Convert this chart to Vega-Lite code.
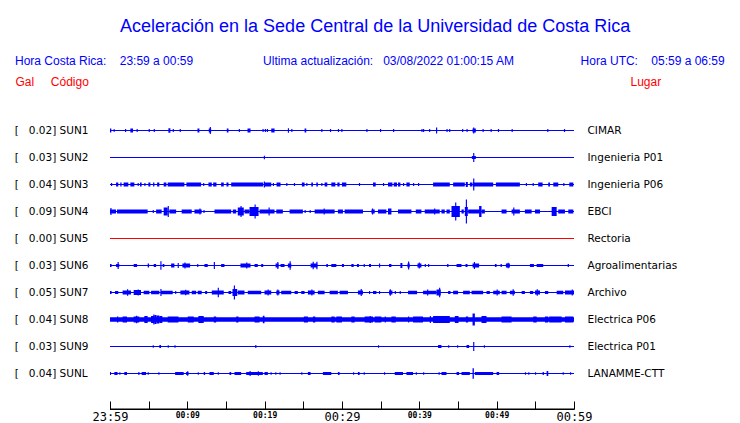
{
  "$schema": "https://vega.github.io/schema/vega-lite/v6.json",
  "autosize": {"type": "none"},
  "padding": {"left": 110, "top": 117, "right": 166, "bottom": 36},
  "width": 464,
  "height": 270,
  "background": "white",
  "config": {"view": {"stroke": null}},
  "title": {
    "text": "\u200b\u00a0\u00a0\u00a0\u00a0\u00a0\u00a0\u00a0\u00a0\u00a0\u00a0\u00a0\u00a0\u00a0\u00a0\u00a0\u00a0\u00a0\u00a0\u00a0\u00a0\u00a0Aceleración en la Sede Central de la Universidad de Costa Rica",
    "subtitle": "Hora Costa Rica:\u00a0\u00a0\u00a0\u00a023:59 a 00:59\u00a0\u00a0\u00a0\u00a0\u00a0\u00a0\u00a0\u00a0\u00a0\u00a0\u00a0\u00a0\u00a0\u00a0\u00a0\u00a0\u00a0\u00a0\u00a0\u00a0\u00a0Ultima actualización:\u00a0\u00a0\u00a003/08/2022 01:00:15 AM\u00a0\u00a0\u00a0\u00a0\u00a0\u00a0\u00a0\u00a0\u00a0\u00a0\u00a0\u00a0\u00a0\u00a0\u00a0\u00a0\u00a0\u00a0\u00a0\u00a0Hora UTC:\u00a0\u00a0\u00a0\u00a005:59 a 06:59",
    "anchor": "start",
    "frame": "group",
    "dx": -95,
    "offset": 8,
    "color": "#0000ff",
    "font": "Liberation Sans",
    "fontSize": 18,
    "fontWeight": "normal",
    "subtitleColor": "#0000ff",
    "subtitleFont": "Liberation Sans",
    "subtitleFontSize": 12,
    "subtitlePadding": 20
  },
  "datasets": {
    "stations": [
      {"s": "SUN1", "izq": "[\u00a0\u00a0\u00a00.02] SUN1", "lugar": "CIMAR"},
      {"s": "SUN2", "izq": "[\u00a0\u00a0\u00a00.03] SUN2", "lugar": "Ingenieria P01"},
      {"s": "SUN3", "izq": "[\u00a0\u00a0\u00a00.04] SUN3", "lugar": "Ingenieria P06"},
      {"s": "SUN4", "izq": "[\u00a0\u00a0\u00a00.09] SUN4", "lugar": "EBCI"},
      {"s": "SUN5", "izq": "[\u00a0\u00a0\u00a00.00] SUN5", "lugar": "Rectoria"},
      {"s": "SUN6", "izq": "[\u00a0\u00a0\u00a00.03] SUN6", "lugar": "Agroalimentarias"},
      {"s": "SUN7", "izq": "[\u00a0\u00a0\u00a00.05] SUN7", "lugar": "Archivo"},
      {"s": "SUN8", "izq": "[\u00a0\u00a0\u00a00.04] SUN8", "lugar": "Electrica P06"},
      {"s": "SUN9", "izq": "[\u00a0\u00a0\u00a00.03] SUN9", "lugar": "Electrica P01"},
      {"s": "SUNL", "izq": "[\u00a0\u00a0\u00a00.04] SUNL", "lugar": "LANAMME-CTT"}
    ],
    "axisline": [{"desde": 0, "hasta": 60, "arriba": -0.07963, "abajo": -0.08519}],
    "waves": [
      {"s":"SUN1","t0":0,"t1":0.17,"a":4},{"s":"SUN1","t0":0.47,"t1":0.6,"a":3},{"s":"SUN1","t0":1.94,"t1":2.09,"a":3},{"s":"SUN1","t0":2.63,"t1":2.98,"a":4},{"s":"SUN1","t0":3.44,"t1":3.59,"a":3},{"s":"SUN1","t0":5.0,"t1":5.15,"a":3},{"s":"SUN1","t0":5.65,"t1":5.8,"a":3},{"s":"SUN1","t0":7.55,"t1":7.81,"a":4.5},{"s":"SUN1","t0":8.11,"t1":8.26,"a":3},{"s":"SUN1","t0":9.01,"t1":9.16,"a":3},{"s":"SUN1","t0":11.31,"t1":11.56,"a":4},{"s":"SUN1","t0":12.77,"t1":13.08,"a":4},{"s":"SUN1","t0":12.9,"t1":13.05,"a":7},{"s":"SUN1","t0":15.1,"t1":15.32,"a":4},{"s":"SUN1","t0":16.65,"t1":16.8,"a":3},{"s":"SUN1","t0":17.78,"t1":18.17,"a":4},{"s":"SUN1","t0":19.72,"t1":19.87,"a":3},{"s":"SUN1","t0":20.02,"t1":20.17,"a":3},{"s":"SUN1","t0":20.28,"t1":20.43,"a":3},{"s":"SUN1","t0":20.85,"t1":21.28,"a":4},{"s":"SUN1","t0":23.0,"t1":23.15,"a":4.5},{"s":"SUN1","t0":23.44,"t1":23.59,"a":3},{"s":"SUN1","t0":25.16,"t1":25.38,"a":4},{"s":"SUN1","t0":27.32,"t1":27.47,"a":3},{"s":"SUN1","t0":28.44,"t1":28.59,"a":3},{"s":"SUN1","t0":29.47,"t1":29.62,"a":3},{"s":"SUN1","t0":29.91,"t1":30.06,"a":3},{"s":"SUN1","t0":33.15,"t1":33.3,"a":3},{"s":"SUN1","t0":34.91,"t1":35.06,"a":3},{"s":"SUN1","t0":36.6,"t1":36.75,"a":3},{"s":"SUN1","t0":40.27,"t1":40.42,"a":3},{"s":"SUN1","t0":40.48,"t1":40.63,"a":3},{"s":"SUN1","t0":41.26,"t1":41.41,"a":3},{"s":"SUN1","t0":42.16,"t1":42.31,"a":6},{"s":"SUN1","t0":43.51,"t1":43.66,"a":3},{"s":"SUN1","t0":43.85,"t1":44.0,"a":3},{"s":"SUN1","t0":45.53,"t1":45.68,"a":3},{"s":"SUN1","t0":46.1,"t1":46.25,"a":3},{"s":"SUN1","t0":46.88,"t1":47.31,"a":4},{"s":"SUN1","t0":46.96,"t1":47.11,"a":6},{"s":"SUN1","t0":48.17,"t1":48.32,"a":3},{"s":"SUN1","t0":49.21,"t1":49.36,"a":3},{"s":"SUN1","t0":50.16,"t1":50.31,"a":3},{"s":"SUN1","t0":51.93,"t1":52.08,"a":3},{"s":"SUN1","t0":56.54,"t1":56.69,"a":3},{"s":"SUN1","t0":58.7,"t1":58.85,"a":3},
      {"s":"SUN2","t0":19.89,"t1":20.04,"a":3.5},{"s":"SUN2","t0":46.79,"t1":47.31,"a":3},{"s":"SUN2","t0":46.96,"t1":47.11,"a":9},
      {"s":"SUN3","t0":0.13,"t1":0.28,"a":3},{"s":"SUN3","t0":0.78,"t1":1.07,"a":4},{"s":"SUN3","t0":1.33,"t1":1.5,"a":4},{"s":"SUN3","t0":1.76,"t1":2.37,"a":4},{"s":"SUN3","t0":2.63,"t1":3.15,"a":4},{"s":"SUN3","t0":3.57,"t1":3.72,"a":3},{"s":"SUN3","t0":3.88,"t1":4.09,"a":4},{"s":"SUN3","t0":4.44,"t1":4.59,"a":3},{"s":"SUN3","t0":4.96,"t1":5.22,"a":4},{"s":"SUN3","t0":5.57,"t1":5.74,"a":4},{"s":"SUN3","t0":6.09,"t1":6.38,"a":4},{"s":"SUN3","t0":6.94,"t1":7.29,"a":4},{"s":"SUN3","t0":7.46,"t1":9.62,"a":4},{"s":"SUN3","t0":9.88,"t1":11.78,"a":4},{"s":"SUN3","t0":12.04,"t1":12.19,"a":3},{"s":"SUN3","t0":12.73,"t1":13.16,"a":4},{"s":"SUN3","t0":13.34,"t1":13.77,"a":4},{"s":"SUN3","t0":14.37,"t1":14.71,"a":4},{"s":"SUN3","t0":15.06,"t1":15.32,"a":4},{"s":"SUN3","t0":15.67,"t1":19.81,"a":4},{"s":"SUN3","t0":19.89,"t1":20.04,"a":6},{"s":"SUN3","t0":19.98,"t1":20.85,"a":4},{"s":"SUN3","t0":21.06,"t1":21.21,"a":3},{"s":"SUN3","t0":21.54,"t1":22.05,"a":4},{"s":"SUN3","t0":22.79,"t1":22.94,"a":3},{"s":"SUN3","t0":23.78,"t1":23.93,"a":3},{"s":"SUN3","t0":24.81,"t1":25.16,"a":4},{"s":"SUN3","t0":25.38,"t1":25.53,"a":3},{"s":"SUN3","t0":26.03,"t1":26.24,"a":4},{"s":"SUN3","t0":26.68,"t1":26.88,"a":4},{"s":"SUN3","t0":27.32,"t1":27.47,"a":3},{"s":"SUN3","t0":27.75,"t1":28.1,"a":4},{"s":"SUN3","t0":28.62,"t1":29.14,"a":4},{"s":"SUN3","t0":29.4,"t1":29.69,"a":4},{"s":"SUN3","t0":29.99,"t1":30.56,"a":4},{"s":"SUN3","t0":32.19,"t1":32.34,"a":3},{"s":"SUN3","t0":34.01,"t1":34.36,"a":4},{"s":"SUN3","t0":35.3,"t1":35.45,"a":3},{"s":"SUN3","t0":35.95,"t1":36.52,"a":4},{"s":"SUN3","t0":36.69,"t1":37.11,"a":4},{"s":"SUN3","t0":37.24,"t1":37.55,"a":4},{"s":"SUN3","t0":37.89,"t1":38.04,"a":3},{"s":"SUN3","t0":38.33,"t1":38.76,"a":4},{"s":"SUN3","t0":39.19,"t1":39.34,"a":3},{"s":"SUN3","t0":39.83,"t1":39.98,"a":3},{"s":"SUN3","t0":41.78,"t1":43.94,"a":4},{"s":"SUN3","t0":44.37,"t1":45.88,"a":4},{"s":"SUN3","t0":46.01,"t1":46.27,"a":5},{"s":"SUN3","t0":46.53,"t1":46.88,"a":4},{"s":"SUN3","t0":46.96,"t1":47.11,"a":12},{"s":"SUN3","t0":46.96,"t1":49.55,"a":4},{"s":"SUN3","t0":49.9,"t1":53.0,"a":4},{"s":"SUN3","t0":53.77,"t1":53.92,"a":3},{"s":"SUN3","t0":54.65,"t1":54.8,"a":3},{"s":"SUN3","t0":55.37,"t1":55.94,"a":4},{"s":"SUN3","t0":56.67,"t1":56.89,"a":4},{"s":"SUN3","t0":57.32,"t1":57.96,"a":4},{"s":"SUN3","t0":58.61,"t1":58.76,"a":3},{"s":"SUN3","t0":59.39,"t1":59.91,"a":4},
      {"s":"SUN4","t0":0,"t1":0.78,"a":4},{"s":"SUN4","t0":0.05,"t1":0.2,"a":7},{"s":"SUN4","t0":0.91,"t1":4.87,"a":4},{"s":"SUN4","t0":5.52,"t1":5.67,"a":3},{"s":"SUN4","t0":5.96,"t1":6.68,"a":4},{"s":"SUN4","t0":6.94,"t1":7.46,"a":8},{"s":"SUN4","t0":7.46,"t1":7.61,"a":11},{"s":"SUN4","t0":7.68,"t1":8.55,"a":4},{"s":"SUN4","t0":9.27,"t1":10.57,"a":4},{"s":"SUN4","t0":10.92,"t1":11.86,"a":4},{"s":"SUN4","t0":11.56,"t1":11.71,"a":6},{"s":"SUN4","t0":12.08,"t1":12.23,"a":3},{"s":"SUN4","t0":13.51,"t1":15.67,"a":4},{"s":"SUN4","t0":15.88,"t1":16.32,"a":4},{"s":"SUN4","t0":16.52,"t1":17.3,"a":8},{"s":"SUN4","t0":16.87,"t1":17.02,"a":11},{"s":"SUN4","t0":17.39,"t1":18.04,"a":4},{"s":"SUN4","t0":18.04,"t1":19.21,"a":9},{"s":"SUN4","t0":18.69,"t1":18.84,"a":14},{"s":"SUN4","t0":19.34,"t1":21.28,"a":4},{"s":"SUN4","t0":20.5,"t1":20.65,"a":8},{"s":"SUN4","t0":21.5,"t1":22.35,"a":4},{"s":"SUN4","t0":23.22,"t1":24.94,"a":4},{"s":"SUN4","t0":25.16,"t1":25.31,"a":3},{"s":"SUN4","t0":25.81,"t1":25.96,"a":3},{"s":"SUN4","t0":26.46,"t1":29.05,"a":4},{"s":"SUN4","t0":27.62,"t1":27.77,"a":6},{"s":"SUN4","t0":29.47,"t1":30.12,"a":4},{"s":"SUN4","t0":30.34,"t1":32.71,"a":4},{"s":"SUN4","t0":33.8,"t1":34.23,"a":4},{"s":"SUN4","t0":33.88,"t1":34.03,"a":6},{"s":"SUN4","t0":34.65,"t1":35.74,"a":4},{"s":"SUN4","t0":35.95,"t1":36.39,"a":6},{"s":"SUN4","t0":37.24,"t1":38.98,"a":4},{"s":"SUN4","t0":39.54,"t1":40.27,"a":4},{"s":"SUN4","t0":40.7,"t1":42.64,"a":4},{"s":"SUN4","t0":41.91,"t1":42.06,"a":6},{"s":"SUN4","t0":42.86,"t1":43.29,"a":4},{"s":"SUN4","t0":43.51,"t1":43.94,"a":4},{"s":"SUN4","t0":44.16,"t1":45.24,"a":11},{"s":"SUN4","t0":44.63,"t1":44.78,"a":18},{"s":"SUN4","t0":45.45,"t1":45.75,"a":4},{"s":"SUN4","t0":45.88,"t1":46.27,"a":9},{"s":"SUN4","t0":46.01,"t1":46.16,"a":24},{"s":"SUN4","t0":46.31,"t1":47.83,"a":4},{"s":"SUN4","t0":47.73,"t1":48.04,"a":11},{"s":"SUN4","t0":48.04,"t1":48.47,"a":4},{"s":"SUN4","t0":50.63,"t1":51.28,"a":4},{"s":"SUN4","t0":51.93,"t1":53.0,"a":4},{"s":"SUN4","t0":52.14,"t1":52.29,"a":8},{"s":"SUN4","t0":53.65,"t1":54.52,"a":4},{"s":"SUN4","t0":54.95,"t1":55.6,"a":4},{"s":"SUN4","t0":57.11,"t1":57.76,"a":9},{"s":"SUN4","t0":57.96,"t1":58.83,"a":4},{"s":"SUN4","t0":59.26,"t1":59.91,"a":4},
      {"s":"SUN6","t0":0,"t1":0.21,"a":3},{"s":"SUN6","t0":0.78,"t1":1.2,"a":3},{"s":"SUN6","t0":0.98,"t1":1.13,"a":7},{"s":"SUN6","t0":3.06,"t1":3.5,"a":3},{"s":"SUN6","t0":4.87,"t1":5.05,"a":4},{"s":"SUN6","t0":5.65,"t1":5.96,"a":3},{"s":"SUN6","t0":6.51,"t1":6.66,"a":8.5},{"s":"SUN6","t0":6.81,"t1":7.03,"a":3},{"s":"SUN6","t0":7.9,"t1":8.33,"a":4},{"s":"SUN6","t0":8.75,"t1":8.9,"a":5},{"s":"SUN6","t0":9.36,"t1":10.36,"a":4},{"s":"SUN6","t0":9.62,"t1":9.77,"a":6},{"s":"SUN6","t0":11.27,"t1":11.42,"a":3},{"s":"SUN6","t0":12.21,"t1":12.64,"a":3},{"s":"SUN6","t0":13.42,"t1":13.57,"a":7},{"s":"SUN6","t0":14.37,"t1":14.8,"a":3},{"s":"SUN6","t0":16.87,"t1":18.17,"a":4},{"s":"SUN6","t0":17.61,"t1":17.76,"a":6},{"s":"SUN6","t0":18.69,"t1":19.11,"a":3},{"s":"SUN6","t0":19.55,"t1":19.81,"a":3},{"s":"SUN6","t0":21.41,"t1":21.8,"a":4},{"s":"SUN6","t0":21.63,"t1":21.78,"a":7},{"s":"SUN6","t0":22.05,"t1":22.57,"a":3},{"s":"SUN6","t0":23.0,"t1":23.44,"a":4},{"s":"SUN6","t0":23.22,"t1":23.37,"a":8.5},{"s":"SUN6","t0":25.94,"t1":26.81,"a":4},{"s":"SUN6","t0":26.2,"t1":26.35,"a":7.5},{"s":"SUN6","t0":26.68,"t1":26.83,"a":7.5},{"s":"SUN6","t0":27.97,"t1":28.18,"a":3},{"s":"SUN6","t0":28.62,"t1":29.27,"a":3},{"s":"SUN6","t0":29.99,"t1":30.25,"a":3},{"s":"SUN6","t0":31.21,"t1":31.51,"a":3},{"s":"SUN6","t0":31.93,"t1":32.19,"a":3},{"s":"SUN6","t0":32.8,"t1":32.95,"a":3},{"s":"SUN6","t0":33.49,"t1":33.75,"a":3},{"s":"SUN6","t0":34.78,"t1":34.93,"a":4},{"s":"SUN6","t0":36.08,"t1":36.39,"a":3},{"s":"SUN6","t0":37.55,"t1":37.81,"a":5},{"s":"SUN6","t0":38.46,"t1":38.76,"a":4},{"s":"SUN6","t0":38.54,"t1":38.69,"a":8},{"s":"SUN6","t0":39.76,"t1":40.27,"a":4},{"s":"SUN6","t0":39.92,"t1":40.07,"a":6},{"s":"SUN6","t0":40.7,"t1":40.85,"a":3},{"s":"SUN6","t0":41.13,"t1":41.28,"a":3},{"s":"SUN6","t0":43.59,"t1":43.77,"a":3},{"s":"SUN6","t0":44.81,"t1":45.45,"a":3},{"s":"SUN6","t0":45.97,"t1":46.23,"a":3},{"s":"SUN6","t0":46.88,"t1":47.73,"a":4},{"s":"SUN6","t0":47.05,"t1":47.2,"a":7},{"s":"SUN6","t0":49.77,"t1":49.99,"a":3},{"s":"SUN6","t0":50.5,"t1":50.67,"a":3},{"s":"SUN6","t0":51.19,"t1":51.71,"a":4},{"s":"SUN6","t0":51.41,"t1":51.56,"a":5.5},{"s":"SUN6","t0":54.3,"t1":54.82,"a":3},{"s":"SUN6","t0":55.17,"t1":56.02,"a":3},{"s":"SUN6","t0":59.18,"t1":59.35,"a":3},
      {"s":"SUN7","t0":0,"t1":0.21,"a":3},{"s":"SUN7","t0":0.65,"t1":1.07,"a":3},{"s":"SUN7","t0":1.63,"t1":2.72,"a":4},{"s":"SUN7","t0":2.2,"t1":2.35,"a":6.5},{"s":"SUN7","t0":3.06,"t1":4.01,"a":5},{"s":"SUN7","t0":3.57,"t1":3.72,"a":6},{"s":"SUN7","t0":4.35,"t1":5.09,"a":3.5},{"s":"SUN7","t0":5.31,"t1":6.38,"a":3.5},{"s":"SUN7","t0":6.51,"t1":6.66,"a":7},{"s":"SUN7","t0":6.6,"t1":8.11,"a":3.5},{"s":"SUN7","t0":8.42,"t1":8.57,"a":3},{"s":"SUN7","t0":9.1,"t1":10.27,"a":4},{"s":"SUN7","t0":9.71,"t1":9.86,"a":5.5},{"s":"SUN7","t0":10.57,"t1":11.14,"a":3.5},{"s":"SUN7","t0":11.34,"t1":11.86,"a":3.5},{"s":"SUN7","t0":12.3,"t1":12.56,"a":3},{"s":"SUN7","t0":13.16,"t1":14.71,"a":4},{"s":"SUN7","t0":13.93,"t1":14.08,"a":9.5},{"s":"SUN7","t0":15.32,"t1":15.67,"a":3},{"s":"SUN7","t0":15.84,"t1":16.45,"a":7},{"s":"SUN7","t0":16.01,"t1":16.16,"a":14},{"s":"SUN7","t0":16.52,"t1":17.39,"a":4},{"s":"SUN7","t0":17.82,"t1":19.55,"a":3.5},{"s":"SUN7","t0":19.98,"t1":20.85,"a":4},{"s":"SUN7","t0":20.37,"t1":20.52,"a":6},{"s":"SUN7","t0":21.5,"t1":21.92,"a":4},{"s":"SUN7","t0":21.63,"t1":21.78,"a":6},{"s":"SUN7","t0":22.14,"t1":23.44,"a":3.5},{"s":"SUN7","t0":23.87,"t1":24.29,"a":3},{"s":"SUN7","t0":24.73,"t1":25.16,"a":3},{"s":"SUN7","t0":25.59,"t1":26.46,"a":4},{"s":"SUN7","t0":26.03,"t1":26.18,"a":6},{"s":"SUN7","t0":26.88,"t1":27.75,"a":3.5},{"s":"SUN7","t0":28.4,"t1":29.47,"a":3.5},{"s":"SUN7","t0":29.69,"t1":30.77,"a":3.5},{"s":"SUN7","t0":32.06,"t1":32.71,"a":4},{"s":"SUN7","t0":32.41,"t1":32.56,"a":7},{"s":"SUN7","t0":33.49,"t1":33.64,"a":3},{"s":"SUN7","t0":34.01,"t1":34.45,"a":3},{"s":"SUN7","t0":34.78,"t1":34.93,"a":3},{"s":"SUN7","t0":36.08,"t1":36.52,"a":4},{"s":"SUN7","t0":36.17,"t1":36.32,"a":6.5},{"s":"SUN7","t0":36.82,"t1":36.97,"a":3},{"s":"SUN7","t0":37.46,"t1":37.61,"a":3},{"s":"SUN7","t0":38.54,"t1":39.71,"a":3.5},{"s":"SUN7","t0":40.48,"t1":42.22,"a":3.5},{"s":"SUN7","t0":41.0,"t1":41.15,"a":6},{"s":"SUN7","t0":42.22,"t1":42.77,"a":6},{"s":"SUN7","t0":42.55,"t1":42.7,"a":9.5},{"s":"SUN7","t0":43.72,"t1":44.03,"a":3},{"s":"SUN7","t0":44.37,"t1":45.01,"a":3.5},{"s":"SUN7","t0":45.66,"t1":46.53,"a":3.5},{"s":"SUN7","t0":46.75,"t1":48.25,"a":3.5},{"s":"SUN7","t0":48.69,"t1":49.12,"a":3},{"s":"SUN7","t0":49.55,"t1":50.41,"a":3.5},{"s":"SUN7","t0":49.99,"t1":50.14,"a":6},{"s":"SUN7","t0":50.63,"t1":51.28,"a":3.5},{"s":"SUN7","t0":51.71,"t1":52.36,"a":3.5},{"s":"SUN7","t0":52.06,"t1":52.21,"a":6.5},{"s":"SUN7","t0":53.23,"t1":53.65,"a":3},{"s":"SUN7","t0":54.3,"t1":54.73,"a":3},{"s":"SUN7","t0":54.95,"t1":55.6,"a":4},{"s":"SUN7","t0":55.17,"t1":55.32,"a":6.5},{"s":"SUN7","t0":56.24,"t1":56.67,"a":3},{"s":"SUN7","t0":57.76,"t1":58.61,"a":3.5},{"s":"SUN7","t0":58.83,"t1":60,"a":4},{"s":"SUN7","t0":59.7,"t1":59.85,"a":6},
      {"s":"SUN8","t0":0,"t1":60,"a":4.5},{"s":"SUN8","t0":0.91,"t1":1.07,"a":6},{"s":"SUN8","t0":1.63,"t1":2.2,"a":6},{"s":"SUN8","t0":3.06,"t1":3.79,"a":6},{"s":"SUN8","t0":3.37,"t1":3.52,"a":7.5},{"s":"SUN8","t0":4.44,"t1":4.87,"a":7},{"s":"SUN8","t0":5.31,"t1":5.74,"a":7},{"s":"SUN8","t0":5.6,"t1":5.75,"a":10},{"s":"SUN8","t0":5.74,"t1":6.0,"a":9},{"s":"SUN8","t0":6.0,"t1":6.38,"a":8},{"s":"SUN8","t0":6.38,"t1":6.77,"a":7},{"s":"SUN8","t0":7.46,"t1":8.85,"a":6},{"s":"SUN8","t0":10.05,"t1":10.83,"a":6},{"s":"SUN8","t0":11.43,"t1":12.12,"a":7},{"s":"SUN8","t0":13.42,"t1":13.73,"a":6},{"s":"SUN8","t0":16.32,"t1":16.61,"a":6},{"s":"SUN8","t0":18.69,"t1":19.34,"a":6},{"s":"SUN8","t0":19.76,"t1":19.98,"a":7.5},{"s":"SUN8","t0":25.07,"t1":25.59,"a":6},{"s":"SUN8","t0":26.24,"t1":26.55,"a":6},{"s":"SUN8","t0":28.62,"t1":29.05,"a":6},{"s":"SUN8","t0":29.27,"t1":29.99,"a":6},{"s":"SUN8","t0":31.21,"t1":31.64,"a":6},{"s":"SUN8","t0":32.93,"t1":34.01,"a":6},{"s":"SUN8","t0":33.58,"t1":33.73,"a":7},{"s":"SUN8","t0":34.23,"t1":35.09,"a":6},{"s":"SUN8","t0":35.52,"t1":35.67,"a":6},{"s":"SUN8","t0":36.39,"t1":36.95,"a":6},{"s":"SUN8","t0":38.54,"t1":38.69,"a":6},{"s":"SUN8","t0":39.19,"t1":40.48,"a":6},{"s":"SUN8","t0":41.35,"t1":41.5,"a":7},{"s":"SUN8","t0":41.78,"t1":43.94,"a":7},{"s":"SUN8","t0":44.59,"t1":45.07,"a":7},{"s":"SUN8","t0":46.01,"t1":46.31,"a":6},{"s":"SUN8","t0":46.88,"t1":47.18,"a":12},{"s":"SUN8","t0":48.04,"t1":48.69,"a":7},{"s":"SUN8","t0":50.63,"t1":51.93,"a":6},{"s":"SUN8","t0":54.73,"t1":55.17,"a":6},{"s":"SUN8","t0":56.24,"t1":56.67,"a":6},{"s":"SUN8","t0":56.8,"t1":58.4,"a":6},{"s":"SUN8","t0":58.83,"t1":59.91,"a":6},
      {"s":"SUN9","t0":5.52,"t1":5.67,"a":2.5},{"s":"SUN9","t0":6.38,"t1":6.6,"a":3},{"s":"SUN9","t0":7.46,"t1":7.61,"a":2.5},{"s":"SUN9","t0":8.33,"t1":8.48,"a":2.5},{"s":"SUN9","t0":18.78,"t1":18.93,"a":3},{"s":"SUN9","t0":34.65,"t1":34.8,"a":2.5},{"s":"SUN9","t0":42.42,"t1":42.86,"a":3},{"s":"SUN9","t0":43.72,"t1":43.87,"a":2.5},{"s":"SUN9","t0":44.88,"t1":45.03,"a":2.5},{"s":"SUN9","t0":46.1,"t1":46.44,"a":3},{"s":"SUN9","t0":46.96,"t1":47.11,"a":9},{"s":"SUN9","t0":48.34,"t1":48.49,"a":2.5},{"s":"SUN9","t0":59.39,"t1":59.54,"a":2.5},
      {"s":"SUNL","t0":0,"t1":0.13,"a":3},{"s":"SUNL","t0":0.56,"t1":0.98,"a":3},{"s":"SUNL","t0":1.2,"t1":1.35,"a":2.5},{"s":"SUNL","t0":1.85,"t1":2.2,"a":3},{"s":"SUNL","t0":3.66,"t1":3.81,"a":3},{"s":"SUNL","t0":4.09,"t1":4.66,"a":3},{"s":"SUNL","t0":4.87,"t1":5.02,"a":2.5},{"s":"SUNL","t0":6.25,"t1":6.4,"a":2.5},{"s":"SUNL","t0":8.42,"t1":9.53,"a":3},{"s":"SUNL","t0":9.84,"t1":10.14,"a":3},{"s":"SUNL","t0":9.97,"t1":10.12,"a":4.5},{"s":"SUNL","t0":11.34,"t1":11.49,"a":2.5},{"s":"SUNL","t0":12.12,"t1":12.3,"a":3},{"s":"SUNL","t0":12.86,"t1":13.42,"a":3},{"s":"SUNL","t0":13.93,"t1":14.08,"a":2.5},{"s":"SUNL","t0":15.45,"t1":15.67,"a":3},{"s":"SUNL","t0":16.1,"t1":16.96,"a":3},{"s":"SUNL","t0":17.61,"t1":19.76,"a":3},{"s":"SUNL","t0":18.04,"t1":18.19,"a":5},{"s":"SUNL","t0":19.11,"t1":19.26,"a":4.5},{"s":"SUNL","t0":19.98,"t1":20.41,"a":3},{"s":"SUNL","t0":20.76,"t1":20.91,"a":2.5},{"s":"SUNL","t0":21.37,"t1":21.52,"a":2.5},{"s":"SUNL","t0":21.92,"t1":22.07,"a":2.5},{"s":"SUNL","t0":24.73,"t1":24.88,"a":2.5},{"s":"SUNL","t0":25.59,"t1":25.94,"a":3},{"s":"SUNL","t0":27.53,"t1":28.62,"a":3},{"s":"SUNL","t0":29.47,"t1":29.69,"a":3},{"s":"SUNL","t0":31.42,"t1":31.57,"a":2.5},{"s":"SUNL","t0":32.06,"t1":32.28,"a":3},{"s":"SUNL","t0":32.8,"t1":32.95,"a":2.5},{"s":"SUNL","t0":35.43,"t1":35.58,"a":2.5},{"s":"SUNL","t0":36.82,"t1":37.89,"a":3},{"s":"SUNL","t0":38.33,"t1":39.19,"a":3},{"s":"SUNL","t0":39.54,"t1":39.69,"a":2.5},{"s":"SUNL","t0":40.48,"t1":40.63,"a":2.5},{"s":"SUNL","t0":42.48,"t1":42.64,"a":2.5},{"s":"SUNL","t0":42.86,"t1":43.51,"a":3},{"s":"SUNL","t0":44.81,"t1":45.14,"a":3},{"s":"SUNL","t0":45.45,"t1":46.53,"a":3},{"s":"SUNL","t0":46.88,"t1":47.05,"a":10.5},{"s":"SUNL","t0":47.18,"t1":49.55,"a":3},{"s":"SUNL","t0":49.99,"t1":50.32,"a":3},{"s":"SUNL","t0":53.65,"t1":53.8,"a":2.5},{"s":"SUNL","t0":54.08,"t1":54.23,"a":2.5},{"s":"SUNL","t0":54.95,"t1":55.1,"a":2.5},{"s":"SUNL","t0":55.94,"t1":56.11,"a":3},{"s":"SUNL","t0":56.46,"t1":56.67,"a":5},{"s":"SUNL","t0":58.53,"t1":58.68,"a":2.5},{"s":"SUNL","t0":59.48,"t1":59.63,"a":2.5}
    ]
  },
  "resolve": {"scale": {"y": "independent"}, "axis": {"x": "independent"}},
  "layer": [
    {
      "data": {"name": "stations"},
      "mark": {"type": "rule", "strokeWidth": 1},
      "encoding": {
        "y": {
          "field": "lugar", "type": "nominal", "sort": null,
          "scale": {"type": "band", "paddingInner": 0, "paddingOuter": 0,
            "domain": ["CIMAR", "Ingenieria P01", "Ingenieria P06", "EBCI", "Rectoria", "Agroalimentarias", "Archivo", "Electrica P06", "Electrica P01", "LANAMME-CTT"]},
          "axis": {
            "orient": "right", "domain": false, "ticks": false, "tickSize": 0, "grid": false,
            "labelAlign": "left", "labelBaseline": "middle", "labelPadding": 13,
            "labelFont": "DejaVu Sans", "labelFontSize": 10.5, "labelColor": "#000000",
            "title": "Lugar", "titleAngle": 0, "titleAlign": "left", "titleBaseline": "middle",
            "titleX": 56, "titleY": -36, "titleColor": "#ff0000", "titleFont": "Liberation Sans",
            "titleFontSize": 12, "titleFontWeight": "normal"
          }
        },
        "color": {
          "field": "s", "type": "nominal", "legend": null,
          "scale": {"domain": ["SUN1","SUN2","SUN3","SUN4","SUN5","SUN6","SUN7","SUN8","SUN9","SUNL"],
            "range": ["#0000ff","#0000ff","#0000ff","#0000ff","#ff0000","#0000ff","#0000ff","#0000ff","#0000ff","#0000ff"]}
        }
      }
    },
    {
      "data": {"name": "waves"},
      "transform": [
        {"lookup": "s", "from": {"data": {"name": "stations"}, "key": "s", "fields": ["izq"]}}
      ],
      "mark": {"type": "bar", "orient": "horizontal"},
      "encoding": {
        "y": {
          "field": "izq", "type": "nominal", "sort": null,
          "scale": {"type": "band", "paddingInner": 0, "paddingOuter": 0,
            "domain": ["[\u00a0\u00a0\u00a00.02] SUN1","[\u00a0\u00a0\u00a00.03] SUN2","[\u00a0\u00a0\u00a00.04] SUN3","[\u00a0\u00a0\u00a00.09] SUN4","[\u00a0\u00a0\u00a00.00] SUN5","[\u00a0\u00a0\u00a00.03] SUN6","[\u00a0\u00a0\u00a00.05] SUN7","[\u00a0\u00a0\u00a00.04] SUN8","[\u00a0\u00a0\u00a00.03] SUN9","[\u00a0\u00a0\u00a00.04] SUNL"]},
          "axis": {
            "orient": "left", "domain": false, "ticks": false, "tickSize": 0, "grid": false,
            "labelAlign": "left", "labelBaseline": "middle", "labelPadding": 95.8,
            "labelFont": "DejaVu Sans", "labelFontSize": 10.5, "labelColor": "#000000",
            "title": "Gal\u00a0\u00a0\u00a0\u00a0\u00a0Código", "titleAngle": 0, "titleAlign": "left", "titleBaseline": "middle",
            "titleX": -95, "titleY": -36, "titleColor": "#ff0000", "titleFont": "Liberation Sans",
            "titleFontSize": 12, "titleFontWeight": "normal"
          }
        },
        "x": {
          "field": "t0", "type": "quantitative",
          "scale": {"domain": [0, 60], "nice": false, "zero": false},
          "axis": {
            "orient": "bottom", "offset": 22, "title": null, "grid": false,
            "domain": false, "ticks": false, "tickSize": 0,
            "values": [0,10,20,30,40,50,60],
            "labelExpr": "datum.value == 0 ? '23:59' : '00:' + (datum.value < 11 ? '0' : '') + (datum.value - 1)",
            "labelFont": "DejaVu Sans Mono", "labelColor": "#000000",
            "labelFontSize": {"condition": {"test": "datum.value % 30 == 0", "value": 12}, "value": 8},
            "labelFontWeight": {"condition": {"test": "datum.value % 30 == 0", "value": "normal"}, "value": "bold"},
            "labelBaseline": "top", "labelPadding": 2, "labelOverlap": false, "labelFlush": false, "labelBound": false
          }
        },
        "x2": {"field": "t1"},
        "size": {
          "field": "a", "type": "quantitative", "legend": null,
          "scale": {"type": "linear", "domain": [0, 30], "range": [0, 30], "zero": true}
        },
        "color": {"field": "s", "type": "nominal", "legend": null}
      }
    },
    {
      "data": {"name": "axisline"},
      "mark": {"type": "rect", "color": "black", "clip": false},
      "encoding": {
        "x": {
          "field": "desde", "type": "quantitative",
          "axis": {
            "orient": "top", "offset": -292, "title": null, "grid": false, "labels": false,
            "values": [0,5,10,15,20,25,30,35,40,45,50,55,60],
            "domain": true, "domainColor": "black", "domainWidth": 1,
            "ticks": true, "tickColor": "black", "tickWidth": 1, "tickSize": 8
          }
        },
        "x2": {"field": "hasta"},
        "y": {
          "field": "arriba", "type": "quantitative", "axis": null,
          "scale": {"domain": [0, 1], "nice": false, "zero": false}
        },
        "y2": {"field": "abajo"}
      }
    }
  ]
}
